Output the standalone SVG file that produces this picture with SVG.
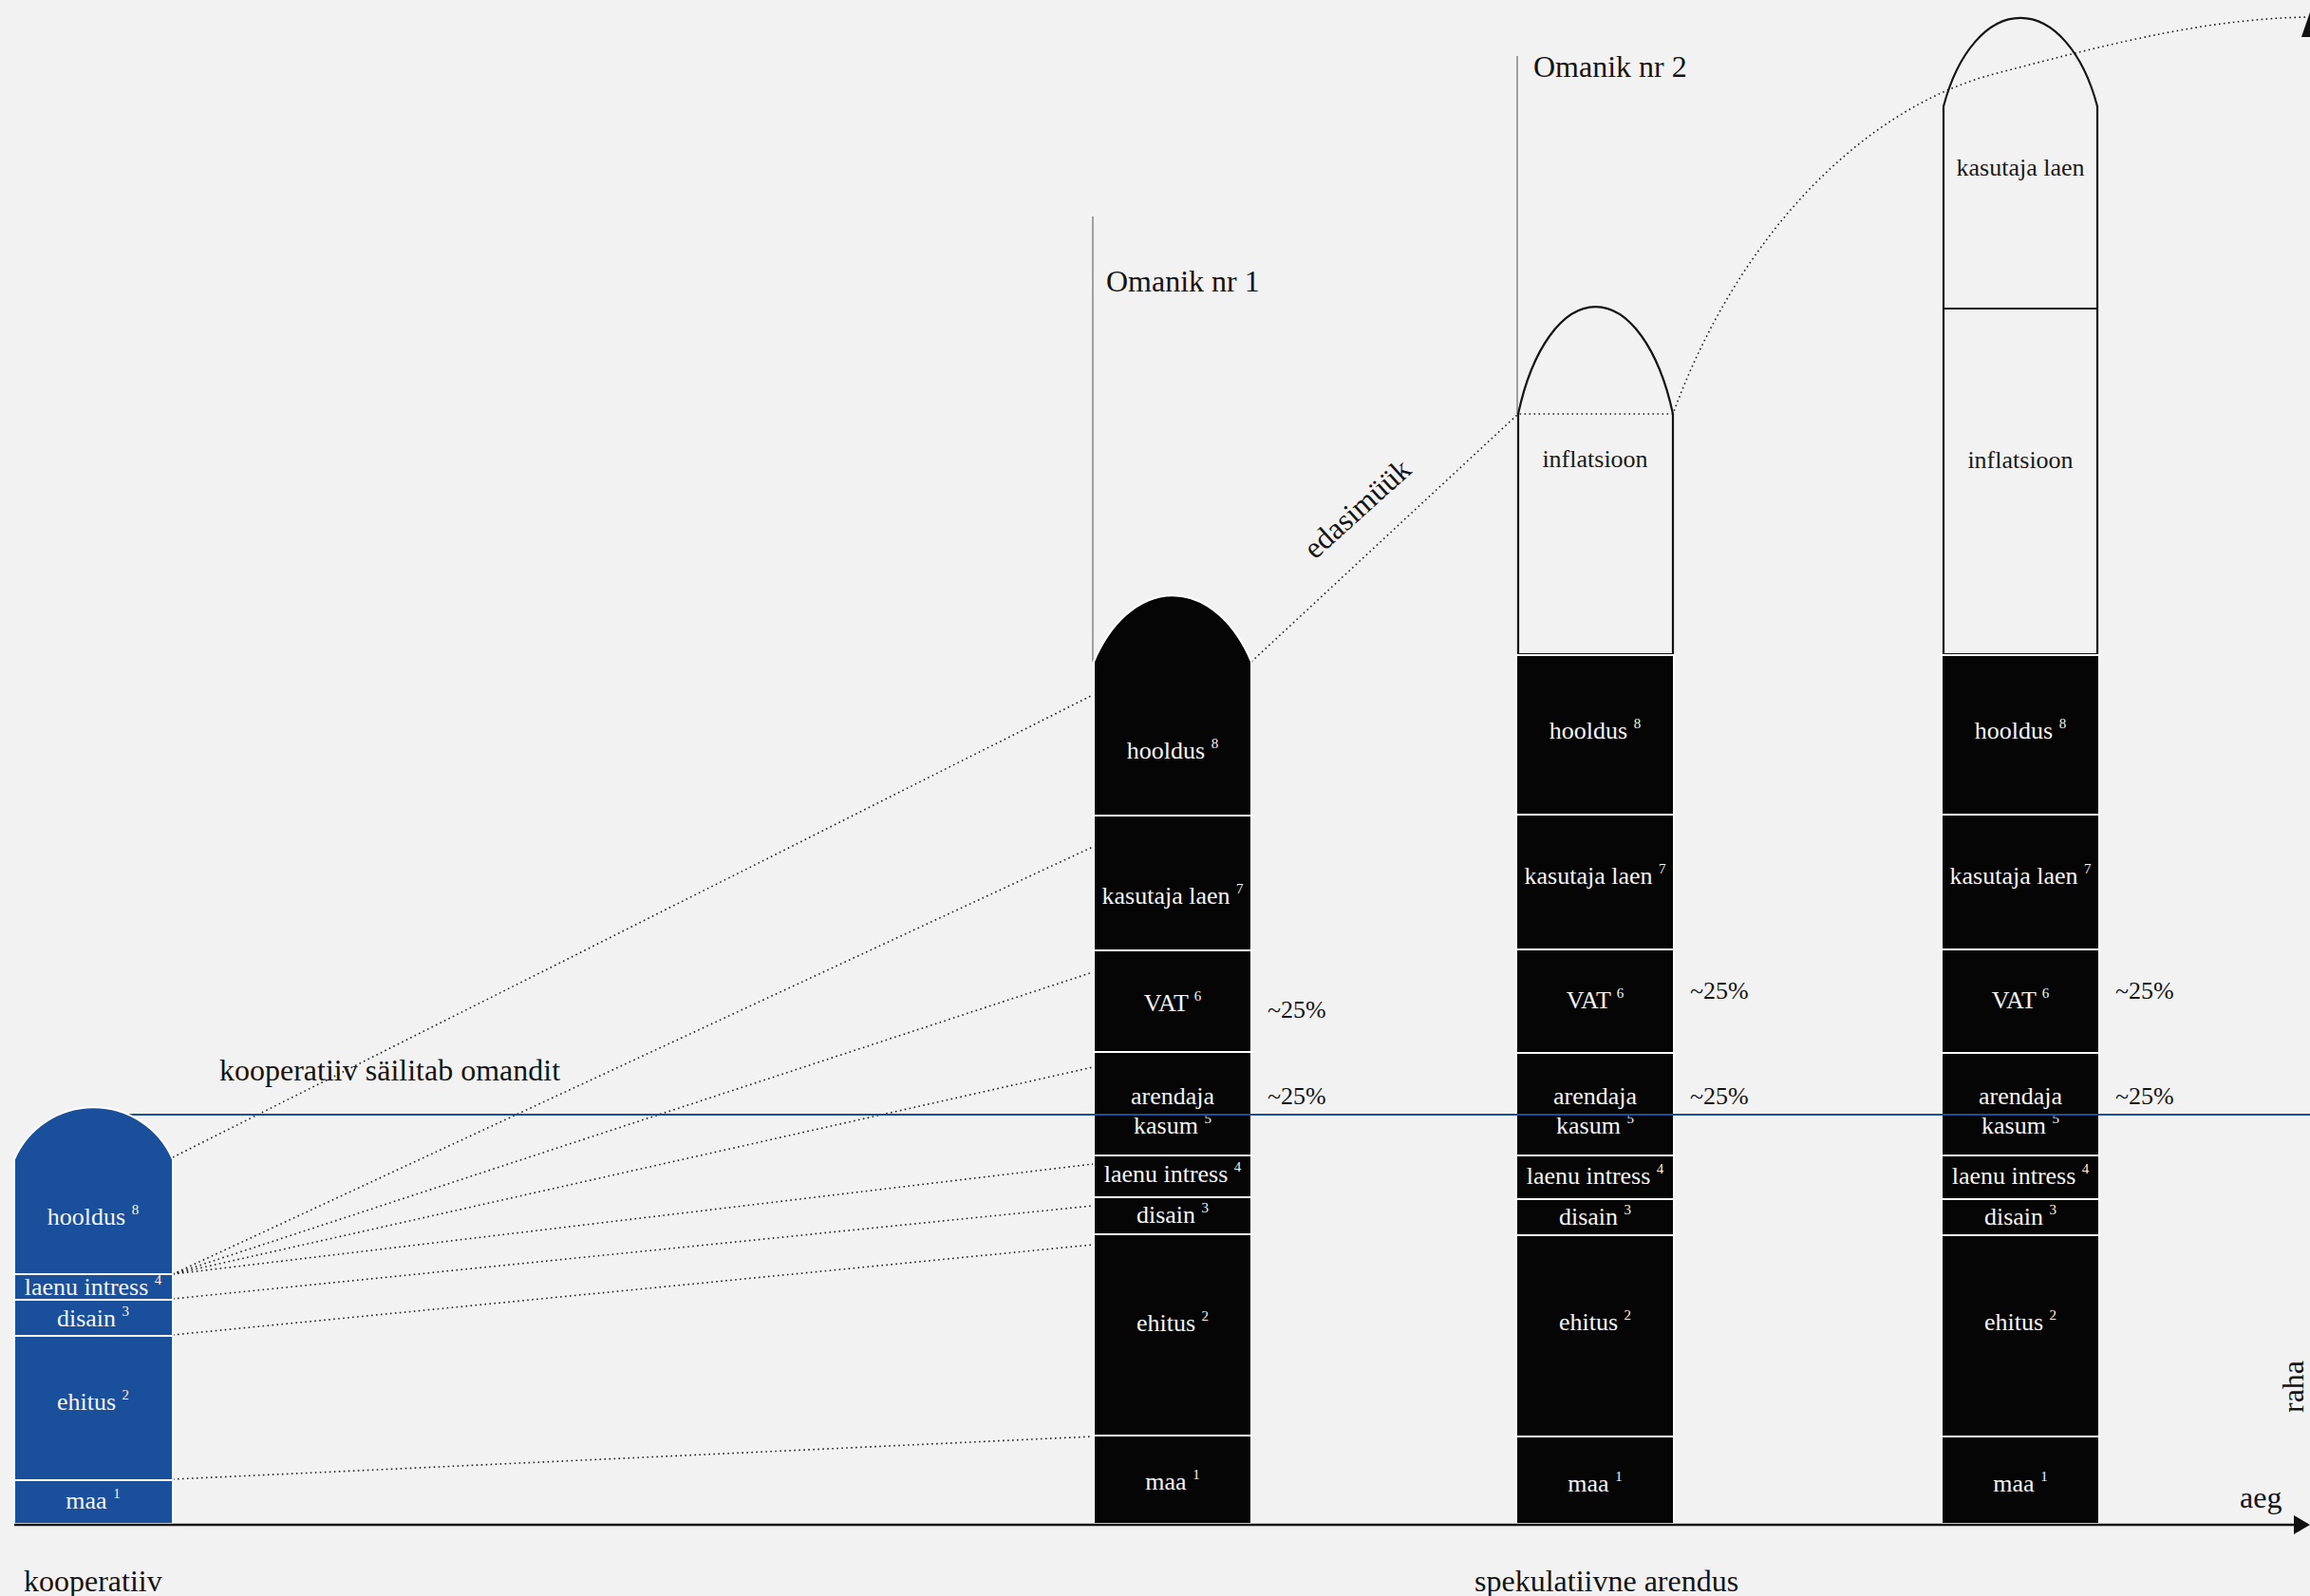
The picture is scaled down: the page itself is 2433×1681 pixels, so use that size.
<svg xmlns="http://www.w3.org/2000/svg" width="2433" height="1681" viewBox="0 0 2433 1681">
<style>
text{font-family:"Liberation Serif","Times New Roman",serif}
.lbl{font-size:32px;fill:#141414}
.blk{fill:#050505;stroke:#fff;stroke-width:2}
.blu{fill:#1a4f9c;stroke:#fff;stroke-width:2}
.out{fill:none;stroke:#141414;stroke-width:2.2}
.wt{font-size:26px;fill:#f4f4f4;text-anchor:middle}
.dk{font-size:26px;fill:#1a1a1a;text-anchor:middle}
.pc{font-size:26px;fill:#141414}
.sup{font-size:15px}
.dot{fill:none;stroke:#222;stroke-width:1.6;stroke-dasharray:1.6 3.4}
.own{stroke:#8a8a8a;stroke-width:1.6}
</style>
<rect x="0" y="0" width="2433" height="1681" fill="#f2f2f2"/>

<g id="connectors">
  <path class="dot" d="M182,1219 L1151,732"/>
  <path class="dot" d="M182,1342 L1151,892"/>
  <path class="dot" d="M182,1342 L1151,1024"/>
  <path class="dot" d="M182,1342 L1151,1124"/>
  <path class="dot" d="M182,1342 L1151,1226"/>
  <path class="dot" d="M182,1368 L1151,1270"/>
  <path class="dot" d="M182,1406 L1151,1311"/>
  <path class="dot" d="M182,1558 L1151,1513"/>
  <path class="dot" d="M1318,697 L1599,436 H1762 C1830,250 1960,115 2100,78 S2330,20 2430,18"/>
  <line class="own" x1="1151" y1="228" x2="1151" y2="697"/>
  <line class="own" x1="1598" y1="59" x2="1598" y2="436"/>
</g>

<g id="pillar-spekulatiivne-omanik2">
  <path class="out" d="M1599,436 A90 196 0 0 1 1762,436 V689 H1599 Z" stroke-dasharray="none"/>
  <text class="dk" x="1680" y="492">inflatsioon</text>
  <rect class="blk" x="1597" y="690" width="166" height="168"/>
  <rect class="blk" x="1597" y="858" width="166" height="142"/>
  <rect class="blk" x="1597" y="1000" width="166" height="109"/>
  <rect class="blk" x="1597" y="1109" width="166" height="108"/>
  <rect class="blk" x="1597" y="1217" width="166" height="46"/>
  <rect class="blk" x="1597" y="1263" width="166" height="38"/>
  <rect class="blk" x="1597" y="1301" width="166" height="212"/>
  <rect class="blk" x="1597" y="1513" width="166" height="92"/>
  <text class="wt" x="1680" y="778">hooldus <tspan class="sup" dy="-11">8</tspan></text>
  <text class="wt" x="1680" y="931">kasutaja laen <tspan class="sup" dy="-11">7</tspan></text>
  <text class="wt" x="1680" y="1062">VAT <tspan class="sup" dy="-11">6</tspan></text>
  <text class="wt" x="1680" y="1163">arendaja</text>
  <text class="wt" x="1680" y="1194">kasum <tspan class="sup" dy="-11">5</tspan></text>
  <text class="wt" x="1680" y="1247">laenu intress <tspan class="sup" dy="-11">4</tspan></text>
  <text class="wt" x="1680" y="1290">disain <tspan class="sup" dy="-11">3</tspan></text>
  <text class="wt" x="1680" y="1401">ehitus <tspan class="sup" dy="-11">2</tspan></text>
  <text class="wt" x="1680" y="1571">maa <tspan class="sup" dy="-11">1</tspan></text>
  <text class="pc" x="1780" y="1052">~25%</text>
  <text class="pc" x="1780" y="1163">~25%</text>
</g>

<g id="pillar-spekulatiivne-3">
  <path class="out" d="M2047,112 A90 165 0 0 1 2209,112 V689 H2047 Z"/>
  <line class="out" x1="2047" y1="325" x2="2209" y2="325"/>
  <text class="dk" x="2128" y="185">kasutaja laen</text>
  <text class="dk" x="2128" y="493">inflatsioon</text>
  <rect class="blk" x="2045" y="690" width="166" height="168"/>
  <rect class="blk" x="2045" y="858" width="166" height="142"/>
  <rect class="blk" x="2045" y="1000" width="166" height="109"/>
  <rect class="blk" x="2045" y="1109" width="166" height="108"/>
  <rect class="blk" x="2045" y="1217" width="166" height="46"/>
  <rect class="blk" x="2045" y="1263" width="166" height="38"/>
  <rect class="blk" x="2045" y="1301" width="166" height="212"/>
  <rect class="blk" x="2045" y="1513" width="166" height="92"/>
  <text class="wt" x="2128" y="778">hooldus <tspan class="sup" dy="-11">8</tspan></text>
  <text class="wt" x="2128" y="931">kasutaja laen <tspan class="sup" dy="-11">7</tspan></text>
  <text class="wt" x="2128" y="1062">VAT <tspan class="sup" dy="-11">6</tspan></text>
  <text class="wt" x="2128" y="1163">arendaja</text>
  <text class="wt" x="2128" y="1194">kasum <tspan class="sup" dy="-11">5</tspan></text>
  <text class="wt" x="2128" y="1247">laenu intress <tspan class="sup" dy="-11">4</tspan></text>
  <text class="wt" x="2128" y="1290">disain <tspan class="sup" dy="-11">3</tspan></text>
  <text class="wt" x="2128" y="1401">ehitus <tspan class="sup" dy="-11">2</tspan></text>
  <text class="wt" x="2128" y="1571">maa <tspan class="sup" dy="-11">1</tspan></text>
  <text class="pc" x="2228" y="1052">~25%</text>
  <text class="pc" x="2228" y="1163">~25%</text>
</g>

<g id="pillar-omanik1">
  <path class="blk" d="M1152,859 V697 A100 158 0 0 1 1318,697 V859 Z"/>
  <rect class="blk" x="1152" y="859" width="166" height="142"/>
  <rect class="blk" x="1152" y="1001" width="166" height="107"/>
  <rect class="blk" x="1152" y="1108" width="166" height="109"/>
  <rect class="blk" x="1152" y="1217" width="166" height="44"/>
  <rect class="blk" x="1152" y="1261" width="166" height="39"/>
  <rect class="blk" x="1152" y="1300" width="166" height="212"/>
  <rect class="blk" x="1152" y="1512" width="166" height="93"/>
  <text class="wt" x="1235" y="799">hooldus <tspan class="sup" dy="-11">8</tspan></text>
  <text class="wt" x="1235" y="952">kasutaja laen <tspan class="sup" dy="-11">7</tspan></text>
  <text class="wt" x="1235" y="1065">VAT <tspan class="sup" dy="-11">6</tspan></text>
  <text class="wt" x="1235" y="1163">arendaja</text>
  <text class="wt" x="1235" y="1194">kasum <tspan class="sup" dy="-11">5</tspan></text>
  <text class="wt" x="1235" y="1245">laenu intress <tspan class="sup" dy="-11">4</tspan></text>
  <text class="wt" x="1235" y="1288">disain <tspan class="sup" dy="-11">3</tspan></text>
  <text class="wt" x="1235" y="1402">ehitus <tspan class="sup" dy="-11">2</tspan></text>
  <text class="wt" x="1235" y="1569">maa <tspan class="sup" dy="-11">1</tspan></text>
  <text class="pc" x="1335" y="1072">~25%</text>
  <text class="pc" x="1335" y="1163">~25%</text>
</g>

<g id="baseline-level">
  <line x1="136" y1="1174" x2="2433" y2="1174" stroke="#1a4f9c" stroke-width="2"/>
</g>

<g id="pillar-kooperatiiv">
  <path class="blu" d="M15,1342 V1221 A91 91 0 0 1 182,1221 V1342 Z"/>
  <rect class="blu" x="15" y="1342" width="167" height="27"/>
  <rect class="blu" x="15" y="1369" width="167" height="38"/>
  <rect class="blu" x="15" y="1407" width="167" height="152"/>
  <rect class="blu" x="15" y="1559" width="167" height="46"/>
  <text class="wt" x="98" y="1290">hooldus <tspan class="sup" dy="-11">8</tspan></text>
  <text class="wt" x="98" y="1364">laenu intress <tspan class="sup" dy="-11">4</tspan></text>
  <text class="wt" x="98" y="1397">disain <tspan class="sup" dy="-11">3</tspan></text>
  <text class="wt" x="98" y="1485">ehitus <tspan class="sup" dy="-11">2</tspan></text>
  <text class="wt" x="98" y="1589">maa <tspan class="sup" dy="-11">1</tspan></text>
</g>

<g id="axes">
  <line x1="15" y1="1606" x2="2420" y2="1606" stroke="#111" stroke-width="2.5"/>
  <polygon points="2416,1596 2433,1606 2416,1616" fill="#111"/>
  <polygon points="2424,39 2436,4 2448,39" fill="#111"/>
  <text class="lbl" x="2359" y="1588">aeg</text>
  <text class="lbl" transform="translate(2426,1488) rotate(-90)" x="0" y="0">raha</text>
</g>

<g id="labels">
  <text class="lbl" x="1165" y="307">Omanik nr 1</text>
  <text class="lbl" x="1615" y="81">Omanik nr 2</text>
  <text class="lbl" transform="translate(1385,590) rotate(-42)" x="0" y="0">edasimüük</text>
  <text class="lbl" x="231" y="1138">kooperatiiv säilitab omandit</text>
  <text class="lbl" x="25" y="1676">kooperatiiv</text>
  <text class="lbl" x="1553" y="1676">spekulatiivne arendus</text>
</g>
</svg>
